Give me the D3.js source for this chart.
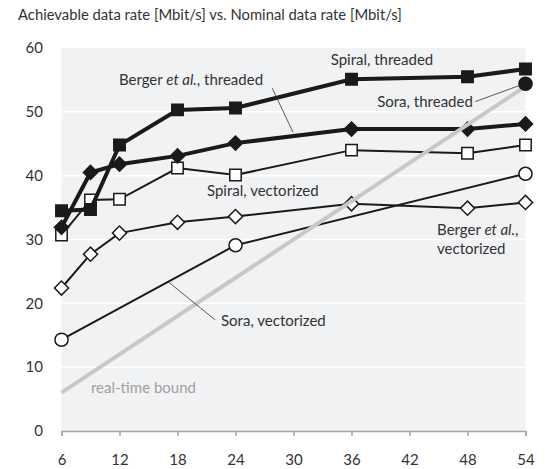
<!DOCTYPE html>
<html>
<head>
<meta charset="utf-8">
<script src="https://cdn.jsdelivr.net/npm/d3@7"></script>
<style>
  body { margin: 0; background: #fff; }
  text { font-family: Lato, 'Open Sans', sans-serif; fill: #333; }
</style>
</head>
<body>
<div id="chart"></div>
<script>
const xTicks = [6, 12, 18, 24, 30, 36, 42, 48, 54]
const yTicks = [0, 10, 20, 30, 40, 50, 60]
const rates = [6, 9, 12, 18, 24, 36, 48, 54]
const spiralThreaded = [34.5, 34.7, 44.8, 50.3, 50.6, 55.1, 55.5, 56.7]
const bergerThreaded = [31.9, 40.5, 41.8, 43.1, 45.1, 47.3, 47.3, 48.1]
const spiralVectorized = [30.7, 36.2, 36.3, 41.2, 40.1, 44.0, 43.5, 44.8]
const bergerVectorized = [22.4, 27.7, 31.0, 32.7, 33.6, 35.6, 34.9, 35.8]
const soraRates = [6, 24, 54]
const soraVectorized = [14.3, 29.1, 40.3]
const soraThreadedRates = [54]
const soraThreaded = [54.4]
const boundRates = [6, 54]
const bound = [6, 54]

const width = 547
const height = 469

const svg = d3
  .select('#chart')
  .append('svg')
  .attr('width', width)
  .attr('height', height)

const x = d3.scaleLinear().domain([6, 54]).range([61.5, 525.5])
const y = d3.scaleLinear().domain([0, 60]).range([431, 48])

// title
svg
  .append('text')
  .attr('x', 18)
  .attr('y', 20)
  .style('font-size', '14.8px')
  .text('Achievable data rate [Mbit/s] vs. Nominal data rate [Mbit/s]')

// plot background
svg
  .append('rect')
  .attr('x', x(6))
  .attr('y', y(60))
  .attr('width', x(54) - x(6))
  .attr('height', y(0) - y(60))
  .attr('fill', '#f1f2f4')

svg
  .selectAll('.grid')
  .data(yTicks.filter(d => d > 0 && d < 60))
  .enter()
  .append('line')
  .attr('class', 'grid')
  .attr('x1', x(6))
  .attr('x2', x(54))
  .attr('y1', d => y(d))
  .attr('y2', d => y(d))
  .attr('stroke', '#fff')
  .attr('stroke-width', 1.5)

// y labels
svg
  .selectAll('.ylab')
  .data(yTicks)
  .enter()
  .append('text')
  .attr('class', 'ylab')
  .attr('x', 43)
  .attr('y', d => y(d))
  .attr('dy', '0.35em')
  .attr('text-anchor', 'end')
  .style('font-size', '15px')
  .text(d => d)

// x axis
const xAxis = svg
  .append('g')
  .attr('transform', 'translate(0,' + y(0) + ')')
  .call(d3.axisBottom(x).tickValues(xTicks).tickSize(5).tickPadding(18))
xAxis.select('.domain').attr('stroke', '#a6a6a6').attr('stroke-width', 1.5)
xAxis.selectAll('.tick line').attr('stroke', '#a6a6a6').attr('stroke-width', 1.5)
xAxis
  .selectAll('.tick text')
  .style('font-size', '15px')
  .style('font-family', "Lato, 'Open Sans', sans-serif")
  .attr('fill', '#333')

const line = d3
  .line()
  .x(d => x(d[0]))
  .y(d => y(d[1]))

function zip(xs, ys) {
  return xs.map((d, i) => [d, ys[i]])
}

const series = [
  { name: 'soraV', pts: zip(soraRates, soraVectorized), w: 2, shape: 'circle', fill: '#fff' },
  { name: 'bergerV', pts: zip(rates, bergerVectorized), w: 2, shape: 'diamond', fill: '#fff' },
  { name: 'spiralV', pts: zip(rates, spiralVectorized), w: 2, shape: 'square', fill: '#fff' },
  { name: 'bergerT', pts: zip(rates, bergerThreaded), w: 4, shape: 'diamond', fill: '#1a1a1a' },
  { name: 'spiralT', pts: zip(rates, spiralThreaded), w: 4, shape: 'square', fill: '#1a1a1a' }
]

const symbols = {
  circle: d3.symbol().type(d3.symbolCircle).size(135)(),
  diamond: d3.symbol().type(d3.symbolSquare).size(100)(),
  square: d3.symbol().type(d3.symbolSquare).size(130)()
}
const rot = { circle: 0, diamond: 45, square: 0 }

series.forEach(function(s) {
  svg
    .append('path')
    .datum(s.pts)
    .attr('d', line)
    .attr('fill', 'none')
    .attr('stroke', '#1a1a1a')
    .attr('stroke-width', s.w)
  svg
    .selectAll('.m-' + s.name)
    .data(s.pts)
    .enter()
    .append('path')
    .attr('class', 'm-' + s.name)
    .attr('d', symbols[s.shape])
    .attr('transform', d => 'translate(' + x(d[0]) + ',' + y(d[1]) + ') rotate(' + rot[s.shape] + ')')
    .attr('fill', s.fill)
    .attr('stroke', '#1a1a1a')
    .attr('stroke-width', 1.5)
})

// real-time bound
svg
  .append('path')
  .datum(zip(boundRates, bound))
  .attr('d', line)
  .attr('fill', 'none')
  .attr('stroke', '#c8c8c8')
  .attr('stroke-width', 4)

svg
  .selectAll('.m-soraT')
  .data(zip(soraThreadedRates, soraThreaded))
  .enter()
  .append('path')
  .attr('class', 'm-soraT')
  .attr('d', symbols.circle)
  .attr('transform', d => 'translate(' + x(d[0]) + ',' + y(d[1]) + ')')
  .attr('fill', '#1a1a1a')
  .attr('stroke', '#1a1a1a')
  .attr('stroke-width', 1.5)

// leader lines
const leaders = [
  [[27.8, 53.7], [29.95, 46.8]],
  [[48.8, 51.6], [53.5, 54.2]],
  [[17.1, 23.3], [21.9, 17.4]]
]
svg
  .selectAll('.leader')
  .data(leaders)
  .enter()
  .append('path')
  .attr('class', 'leader')
  .attr('d', line)
  .attr('stroke', '#333')
  .attr('stroke-width', 0.8)
  .attr('fill', 'none')

// labels
function label(px, py, anchor) {
  return svg
    .append('text')
    .attr('x', x(px))
    .attr('y', y(py))
    .attr('text-anchor', anchor)
    .style('font-size', '15px')
}

label(39.15, 57.3, 'middle').text('Spiral, threaded')

const bt = label(26.85, 54.2, 'end')
bt.append('tspan').text('Berger ')
bt.append('tspan').style('font-style', 'italic').text('et al.')
bt.append('tspan').text(', threaded')

label(48.55, 50.8, 'end').text('Sora, threaded')
label(21.05, 36.8, 'start').text('Spiral, vectorized')

const bv = label(44.85, 30.7, 'start')
bv.append('tspan').text('Berger ')
bv.append('tspan').style('font-style', 'italic').text('et al.')
bv.append('tspan').text(',')
label(44.85, 27.7, 'start').text('vectorized')

label(22.5, 16.4, 'start').text('Sora, vectorized')

label(9.05, 6.0, 'start')
  .style('fill', '#a0a0a0')
  .text('real-time bound')
</script>
</body>
</html>
